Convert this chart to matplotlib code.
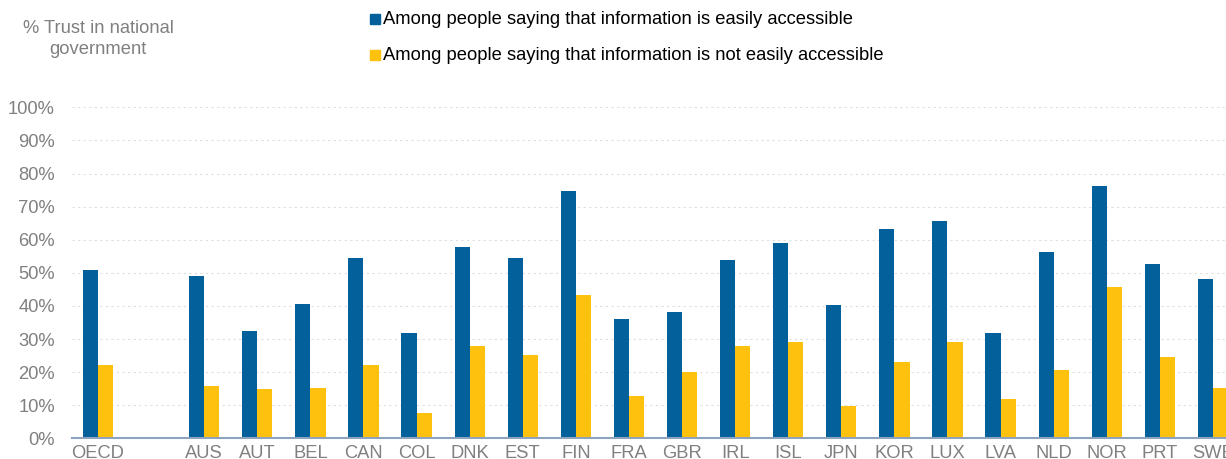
import numpy as np
import matplotlib.pyplot as plt
from matplotlib.patches import Rectangle

plt.rcParams['font.family'] = ['Liberation Sans', 'DejaVu Sans']

countries = ['OECD', '', 'AUS', 'AUT', 'BEL', 'CAN', 'COL', 'DNK', 'EST', 'FIN', 'FRA',
             'GBR', 'IRL', 'ISL', 'JPN', 'KOR', 'LUX', 'LVA', 'NLD', 'NOR', 'PRT', 'SWE']
accessible = [50.8, np.nan, 49.0, 32.3, 40.7, 54.6, 31.7, 57.8, 54.4, 74.8, 36.0,
              38.2, 53.8, 59.1, 40.2, 63.3, 65.6, 31.7, 56.3, 76.1, 52.6, 48.0]
not_accessible = [22.1, np.nan, 15.8, 14.9, 15.2, 22.2, 7.5, 27.9, 25.3, 43.2, 12.9,
                  19.9, 27.9, 29.2, 9.9, 23.0, 29.2, 11.9, 20.7, 45.6, 24.6, 15.2]
legend_labels = ['Among people saying that information is easily accessible',
                 'Among people saying that information is not easily accessible']

blue = '#03609a'
yellow = '#fec10e'
grey = '#808080'

fig = plt.figure(figsize=(12.26, 4.59), dpi=100)
ax = fig.add_axes([71.5 / 1226, 20.7 / 459, (1239.5 - 71.5) / 1226, 331 / 459])

x = np.arange(len(countries))
w = 0.285
ax.bar(x - w / 2, accessible, w, color=blue, zorder=3)
ax.bar(x + w / 2, not_accessible, w, color=yellow, zorder=3)

ax.set_xlim(-0.5, len(countries) - 0.5)
ax.set_ylim(0, 100)
ax.set_yticks(np.arange(0, 101, 10))
ax.set_yticklabels([f'{v}%' for v in range(0, 101, 10)])
ax.set_xticks(x)
ax.set_xticklabels(countries)
ax.tick_params(length=0, labelsize=13.2, labelcolor=grey)
ax.tick_params(axis='y', pad=12)
ax.tick_params(axis='x', pad=5)

ax.grid(axis='y', color='#dedede', linestyle=(0, (2, 3)), linewidth=0.8, zorder=0)
for s in ['top', 'right', 'left']:
    ax.spines[s].set_visible(False)
ax.spines['bottom'].set_color('#8ea3bd')
ax.spines['bottom'].set_linewidth(1.5)
ax.spines['bottom'].set_zorder(4)

fig.text(98 / 1226, 1 - 39 / 459, '% Trust in national\ngovernment', ha='center', va='center',
         fontsize=13.2, color=grey, linespacing=1.3)

# legend drawn by hand as two rows of square + label
for i, (lab, col) in enumerate(zip(legend_labels, [blue, yellow])):
    yc = 1 - (19 + 36 * i) / 459
    fig.patches.append(Rectangle((370 / 1226, yc - 5 / 459), 10 / 1226, 10 / 459,
                                 transform=fig.transFigure, color=col))
    fig.text(383 / 1226, yc, lab, ha='left', va='center', fontsize=13.2, color='black')

fig.savefig('out.png', dpi=100)
